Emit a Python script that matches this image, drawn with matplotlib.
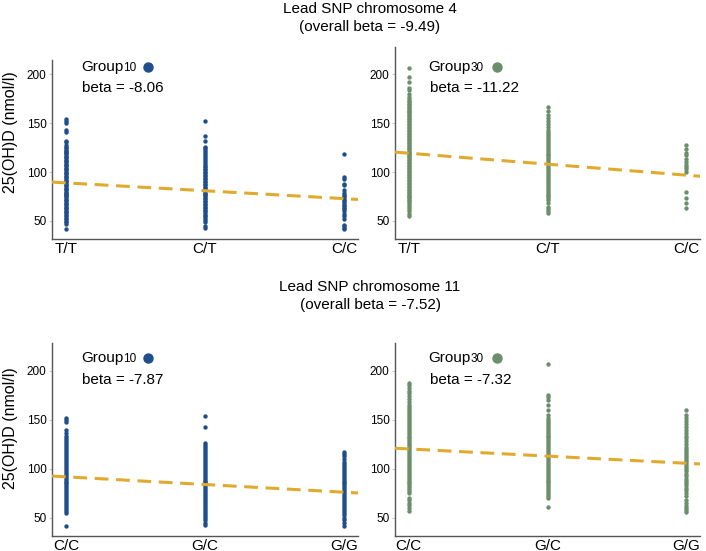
import matplotlib
matplotlib.use("Agg")
import matplotlib.pyplot as plt
import numpy as np

plt.rcParams['font.family'] = ['Liberation Sans', 'DejaVu Sans']

W, H = 706, 551

# chromosome 4, genotypes T/T, C/T, C/C
chr4_genotypes = ["T/T", "C/T", "C/C"]
chr4_g10_tt = [42, 47, 49, 50, 52, 53, 55, 56, 58, 59, 60, 62, 63, 64, 66, 67, 68, 70, 71, 72, 74, 75,
               76, 78, 79, 80, 82, 83, 84, 86, 87, 88, 90, 91, 92, 94, 95, 96, 98, 99, 100, 102, 103,
               104, 106, 107, 108, 110, 111, 112, 114, 115, 116, 118, 119, 120, 122, 123, 125, 126,
               128, 131, 132, 141, 143, 150, 152, 154]
chr4_g10_ct = [43, 45, 49, 51, 53, 55, 56, 58, 60, 61, 63, 64, 66, 67, 69, 70, 72, 73, 75, 76, 78, 79,
               81, 82, 84, 85, 87, 88, 90, 91, 93, 94, 96, 97, 99, 100, 102, 103, 105, 106, 108, 110,
               112, 114, 116, 118, 120, 123, 125, 126, 132, 137, 152]
chr4_g10_cc = [42, 43, 45, 46, 52, 55, 57, 60, 62, 63, 65, 66, 68, 70, 71, 73, 75, 77, 79, 82, 87, 88,
               93, 95, 118]
chr4_g30_tt = [55, 57, 60, 62, 64, 66, 68, 70, 71, 73, 74, 76, 77, 79, 80, 82, 83, 85, 86, 88, 89, 91,
               92, 94, 95, 97, 98, 100, 101, 103, 104, 106, 107, 109, 110, 112, 113, 115, 116, 118,
               119, 121, 122, 124, 125, 127, 128, 130, 131, 133, 134, 136, 137, 139, 140, 142, 143,
               145, 146, 148, 149, 151, 152, 154, 155, 157, 158, 160, 161, 163, 164, 166, 167, 169,
               170, 172, 173, 175, 177, 180, 184, 186, 192, 197, 207]
chr4_g30_ct = [58, 60, 62, 64, 68, 71, 73, 75, 77, 79, 81, 83, 85, 87, 89, 91, 93, 95, 97, 99, 101, 103,
               105, 107, 109, 111, 113, 115, 117, 119, 121, 123, 125, 127, 129, 131, 133, 135, 137,
               139, 141, 143, 146, 149, 152, 155, 158, 162, 167]
chr4_g30_cc = [63, 68, 73, 80, 100, 103, 105, 107, 110, 113, 117, 120, 124, 128]

# chromosome 11, genotypes C/C, G/C, G/G
chr11_genotypes = ["C/C", "G/C", "G/G"]
chr11_g10_cc = [42, 55, 57, 59, 61, 63, 65, 67, 69, 71, 73, 75, 77, 79, 81, 83, 85, 87, 89, 91, 93, 95,
                97, 99, 101, 103, 105, 107, 109, 111, 113, 115, 117, 119, 121, 123, 125, 127, 129,
                131, 134, 137, 140, 148, 150, 152]
chr11_g10_gc = [43, 45, 48, 50, 52, 54, 56, 58, 60, 62, 64, 66, 68, 70, 72, 74, 76, 78, 80, 82, 84, 86,
                88, 90, 92, 94, 96, 98, 100, 102, 104, 106, 108, 110, 112, 114, 116, 118, 120, 122,
                124, 126, 143, 154]
chr11_g10_gg = [42, 45, 48, 50, 53, 55, 57, 59, 61, 63, 65, 67, 69, 71, 73, 75, 77, 79, 81, 83, 85, 87,
                89, 91, 93, 95, 97, 99, 101, 103, 105, 107, 110, 113, 115, 117]
chr11_g30_cc = [57, 60, 63, 65, 68, 70, 75, 77, 79, 81, 83, 85, 87, 89, 91, 93, 95, 97, 99, 101, 103,
                105, 107, 109, 111, 113, 115, 117, 119, 121, 123, 125, 127, 129, 131, 133, 135, 137,
                139, 141, 143, 145, 147, 149, 151, 153, 155, 157, 159, 161, 163, 165, 168, 171, 174,
                177, 180, 183, 186, 188]
chr11_g30_gc = [61, 70, 72, 74, 76, 78, 80, 82, 84, 86, 88, 90, 92, 94, 96, 98, 100, 102, 104, 106, 108,
                110, 112, 114, 116, 118, 120, 122, 124, 126, 128, 130, 132, 134, 136, 138, 140, 142,
                144, 146, 148, 150, 152, 155, 160, 165, 170, 173, 175, 207]
chr11_g30_gg = [56, 58, 60, 62, 65, 68, 72, 75, 78, 80, 83, 85, 88, 90, 93, 95, 98, 100, 102, 104, 106,
                108, 110, 112, 114, 116, 118, 120, 122, 125, 128, 131, 134, 137, 140, 143, 146, 149,
                152, 155, 160]

# fitted lines: value at first genotype and beta per copy
intercepts = [88.9, 119.3, 91.8, 120.3]
betas = [-8.06, -11.22, -7.87, -7.32]
overall_betas = [-9.49, -7.52]
chromosomes = [4, 11]

blue = "#1f4e8c"
green = "#6a8f6a"
gold = "#e0aa2e"


def px_rect(x0, y0, x1, y1):
    return [x0 / W, 1 - y1 / H, (x1 - x0) / W, (y1 - y0) / H]


fig = plt.figure(figsize=(W / 100, H / 100), dpi=100)

panels = [
    dict(rect=px_rect(52, 60, 358, 239), ylim=(31.5, 214.6), cats=chr4_genotypes,
         data=[chr4_g10_tt, chr4_g10_ct, chr4_g10_cc], color=blue, grp="10", ylabel=0.595,
         txt=(81, 67, 82, 88, 148)),
    dict(rect=px_rect(395, 47, 700, 239), ylim=(31.5, 228), cats=chr4_genotypes,
         data=[chr4_g30_tt, chr4_g30_ct, chr4_g30_cc], color=green, grp="30", ylabel=None,
         txt=(428, 67, 430, 88, 497)),
    dict(rect=px_rect(52, 343, 358, 536), ylim=(31.3, 228.6), cats=chr11_genotypes,
         data=[chr11_g10_cc, chr11_g10_gc, chr11_g10_gg], color=blue, grp="10", ylabel=0.56,
         txt=(81, 358, 82, 380, 148)),
    dict(rect=px_rect(395, 343, 700, 536), ylim=(31.3, 228.6), cats=chr11_genotypes,
         data=[chr11_g30_cc, chr11_g30_gc, chr11_g30_gg], color=green, grp="30", ylabel=None,
         txt=(428, 358, 430, 380, 497)),
]

for i, p in enumerate(panels):
    ax = fig.add_axes(p["rect"])
    for k, vals in enumerate(p["data"]):
        ax.scatter(np.full(len(vals), k), vals, s=10, color=p["color"], linewidths=0, zorder=2)
    xs = np.array([-0.1, 2.1])
    ax.plot(xs, intercepts[i] + betas[i] * xs, color=gold, lw=2.2, dashes=(4.5, 2.5), zorder=3)
    ax.set_xlim(-0.1, 2.1)
    ax.set_ylim(*p["ylim"])
    ax.set_xticks([0, 1, 2])
    ax.set_xticklabels(p["cats"], fontsize=11)
    ax.set_yticks([50, 100, 150, 200])
    ax.tick_params(axis='y', labelsize=8.5, length=2, color="#cccccc", pad=2)
    ax.tick_params(axis='x', length=0, pad=2)
    for s in ["top", "right"]:
        ax.spines[s].set_visible(False)
    for s in ["left", "bottom"]:
        ax.spines[s].set_color("#555555")
        ax.spines[s].set_linewidth(1)
    if p["ylabel"] is not None:
        ax.set_ylabel("25(OH)D (nmol/l)", fontsize=11.5)
        ax.yaxis.set_label_coords(-0.112, p["ylabel"])

    gx, gy, bx, by, dx = p["txt"]
    t = fig.text(gx / W, 1 - gy / H, "Group", fontsize=11, va="center", ha="left")
    ax.annotate(p["grp"], xy=(1, 0), xycoords=t, xytext=(0, 0), textcoords="offset points",
                fontsize=8.5, va="bottom", ha="left")
    ax.plot([dx / W], [1 - gy / H], "o", color=p["color"], ms=6.5, transform=fig.transFigure,
            clip_on=False)
    fig.text(bx / W, 1 - by / H, f"beta = {betas[i]:.2f}", fontsize=11, va="center", ha="left")

for j, yy in enumerate([9, 287]):
    fig.text(370 / W, 1 - yy / H, f"Lead SNP chromosome {chromosomes[j]}", fontsize=11,
             ha="center", va="center")
    fig.text(370 / W, 1 - (yy + 18) / H, f"(overall beta = {overall_betas[j]:.2f})", fontsize=11,
             ha="center", va="center")

fig.savefig("out.png", dpi=100)
